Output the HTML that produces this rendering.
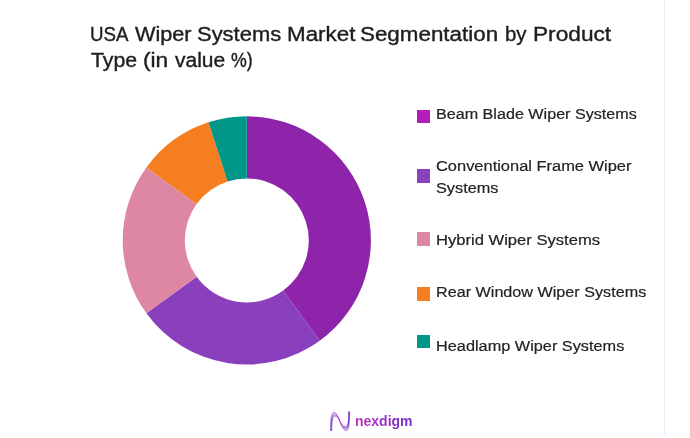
<!DOCTYPE html>
<html><head><meta charset="utf-8">
<style>
html,body{margin:0;padding:0;background:#fff;}
body{width:690px;height:438px;position:relative;overflow:hidden;font-family:"Liberation Sans",sans-serif;}
.w{position:absolute;white-space:nowrap;line-height:30px;transform-origin:0 0;display:block;}
.t{color:#1e1e1e;-webkit-text-stroke:0.38px #1e1e1e;}
.l{color:#222;-webkit-text-stroke:0.2px #222;}
.g{font-weight:bold;background:linear-gradient(90deg,#c02fc2,#6c2fc4);-webkit-background-clip:text;background-clip:text;color:transparent;}
.vline{position:absolute;left:663.7px;top:0;width:1.3px;height:434.8px;background:#ebecf3;}
.mk{position:absolute;left:416.9px;width:13.1px;height:13.5px;}
svg{position:absolute;left:0;top:0;}
</style></head><body>
<svg width="690" height="438" viewBox="0 0 690 438">
<path d="M246.80,116.30 A124.1,124.1 0 0 1 319.74,340.80 L283.24,290.56 A62.0,62.0 0 0 0 246.80,178.40 Z" fill="#8e24aa"/>
<path d="M319.74,340.80 A124.1,124.1 0 0 1 146.40,313.34 L196.64,276.84 A62.0,62.0 0 0 0 283.24,290.56 Z" fill="#8a3fbc"/>
<path d="M146.40,313.34 A124.1,124.1 0 0 1 146.40,167.46 L196.64,203.96 A62.0,62.0 0 0 0 196.64,276.84 Z" fill="#de87a3"/>
<path d="M146.40,167.46 A124.1,124.1 0 0 1 208.45,122.37 L227.64,181.43 A62.0,62.0 0 0 0 196.64,203.96 Z" fill="#f57f20"/>
<path d="M208.45,122.37 A124.1,124.1 0 0 1 246.80,116.30 L246.80,178.40 A62.0,62.0 0 0 0 227.64,181.43 Z" fill="#009688"/>

<defs><linearGradient id="g" gradientUnits="userSpaceOnUse" x1="330" y1="0" x2="350" y2="0"><stop offset="0" stop-color="#6a40cc"/><stop offset="0.5" stop-color="#c040c8"/><stop offset="0.8" stop-color="#7a30c0"/><stop offset="1" stop-color="#6a35c8"/></linearGradient></defs>
<path d="M330.50,430.5 C330.50,421 331.10,412 333.90,412 C339.00,412 340.60,430.8 346.40,430.8 C349.00,430.8 349.60,422 349.60,412" fill="none" stroke="url(#g)" stroke-width="1" stroke-linecap="round" opacity="0.5"/>
<path d="M330.90,430.5 C330.90,421 331.50,413.4 334.30,413.4 C339.40,413.4 340.30,429.5 346.10,429.5 C348.70,429.5 349.30,422 349.30,412" fill="none" stroke="url(#g)" stroke-width="1" stroke-linecap="round" opacity="0.65"/>
<path d="M331.30,430.5 C331.30,421 331.90,414.9 334.70,414.9 C339.80,414.9 340.00,428.0 345.80,428.0 C348.40,428.0 349.00,422 349.00,412" fill="none" stroke="url(#g)" stroke-width="1" stroke-linecap="round" opacity="0.85"/>
<path d="M331.70,430.5 C331.70,421 332.30,416.2 335.10,416.2 C340.20,416.2 339.70,426.6 345.50,426.6 C348.10,426.6 348.70,422 348.70,412" fill="none" stroke="url(#g)" stroke-width="1" stroke-linecap="round" opacity="0.7"/>
</svg>
<div class="vline"></div>
<div class="mk" style="top:109.7px;background:#b41eb8"></div>
<div class="mk" style="top:169.3px;background:#8a3fbc"></div>
<div class="mk" style="top:232.2px;height:14px;background:#de87a3"></div>
<div class="mk" style="top:287.4px;background:#f57f20"></div>
<div class="mk" style="top:334.7px;background:#009688"></div>
<span class="w t" style="left:90.16px;top:18.97px;font-size:20px;transform:scaleX(0.9350)">USA</span>
<span class="w t" style="left:135.10px;top:18.97px;font-size:20px;transform:scaleX(1.0827)">Wiper</span>
<span class="w t" style="left:197.30px;top:18.97px;font-size:20px;transform:scaleX(1.0973)">Systems</span>
<span class="w t" style="left:286.68px;top:18.97px;font-size:20px;transform:scaleX(1.1200)">Market</span>
<span class="w t" style="left:359.88px;top:18.97px;font-size:20px;transform:scaleX(1.1189)">Segmentation</span>
<span class="w t" style="left:504.58px;top:18.97px;font-size:20px;transform:scaleX(1.0200)">by</span>
<span class="w t" style="left:532.87px;top:18.97px;font-size:20px;transform:scaleX(1.1338)">Product</span>
<span class="w t" style="left:91.10px;top:44.87px;font-size:20px;transform:scaleX(1.0651)">Type</span>
<span class="w t" style="left:142.97px;top:44.87px;font-size:20px;transform:scaleX(1.1350)">(in</span>
<span class="w t" style="left:174.50px;top:44.87px;font-size:20px;transform:scaleX(1.0489)">value</span>
<span class="w t" style="left:231.00px;top:44.87px;font-size:20px;transform:scaleX(0.8875)">%)</span>
<span class="w l" style="left:435.56px;top:98.73px;font-size:15.5px;transform:scaleX(1.0406)">Beam Blade Wiper Systems</span>
<span class="w l" style="left:436.30px;top:151.13px;font-size:15.5px;transform:scaleX(1.0603)">Conventional Frame Wiper</span>
<span class="w l" style="left:435.55px;top:172.63px;font-size:15.5px;transform:scaleX(1.0500)">Systems</span>
<span class="w l" style="left:435.53px;top:224.53px;font-size:15.5px;transform:scaleX(1.0697)">Hybrid Wiper Systems</span>
<span class="w l" style="left:435.56px;top:277.13px;font-size:15.5px;transform:scaleX(1.0430)">Rear Window Wiper Systems</span>
<span class="w l" style="left:435.55px;top:331.23px;font-size:15.5px;transform:scaleX(1.0511)">Headlamp Wiper Systems</span>
<span class="w g" style="left:355.07px;top:405.80px;font-size:15px;transform:scaleX(0.9333)">nexdigm</span>
</body></html>
